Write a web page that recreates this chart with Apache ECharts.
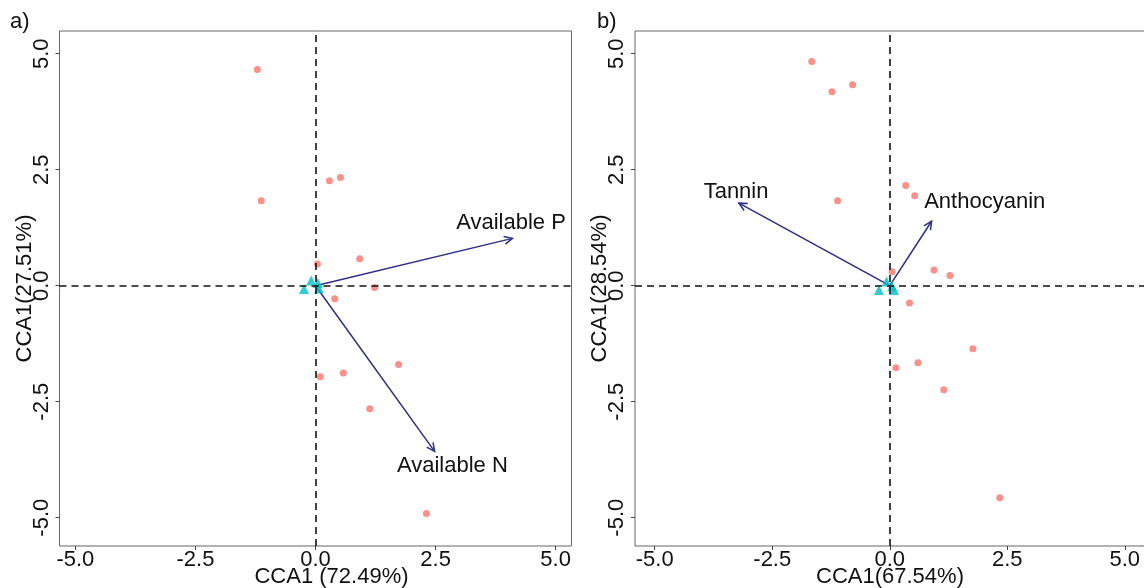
<!DOCTYPE html>
<html>
<head>
<meta charset="utf-8">
<script src="https://cdn.jsdelivr.net/npm/echarts@6/dist/echarts.min.js"></script>
<style>
  html, body { margin: 0; background: #fff; }
  #chart { width: 1144px; height: 588px; }
</style>
</head>
<body>
<div id="chart"></div>
<script>
// tick labels shared by both panels
const tickValues = [-5, -2.5, 0, 2.5, 5];

// panel a) sites, groups and environmental vectors
const sitesA = [
  [-1.21, 4.66], [-1.13, 1.83], [0.29, 2.26], [0.52, 2.33], [0.92, 0.58],
  [0.04, 0.47], [0.40, -0.28], [1.23, -0.04], [0.10, -1.96], [0.58, -1.88],
  [1.73, -1.70], [1.13, -2.65], [2.31, -4.91]
];
const groupsA = [[-0.09, 0.11], [-0.24, -0.07], [0.05, 0.06], [0.07, -0.06]];
const envNamesA = ['Available P', 'Available N'];
const envTipsA = [[4.10, 1.02], [2.48, -3.57]];
const envLabelPosA = [[4.07, 1.36], [2.85, -3.89]];

// panel b) sites, groups and environmental vectors
const sitesB = [
  [-1.66, 4.83], [-1.23, 4.18], [-0.79, 4.33], [-1.11, 1.83], [0.34, 2.16],
  [0.53, 1.94], [0.94, 0.34], [1.28, 0.22], [0.05, 0.30], [0.42, -0.37],
  [1.77, -1.36], [0.60, -1.66], [0.13, -1.77], [1.15, -2.24], [2.34, -4.57]
];
const groupsB = [[-0.07, 0.09], [-0.23, -0.09], [0.05, -0.01], [0.09, -0.09]];
const envNamesB = ['Tannin', 'Anthocyanin'];
const envTipsB = [[-3.21, 1.78], [0.89, 1.39]];
const envLabelPosB = [[-3.27, 2.03], [2.02, 1.80]];

const xTitles = ['CCA1 (72.49%)', 'CCA1(67.54%)'];
const yTitles = ['CCA1(27.51%)', 'CCA1(28.54%)'];

const fontFam = '"Liberation Sans", Arial, sans-serif';
const arrowColor = '#2E2D86';

function makeX(idx, min, max, titleShift) {
  return {
    type: 'value', gridIndex: idx, min: min, max: max,
    name: xTitles[idx], nameLocation: 'middle', nameGap: 20, nameMoveOverlap: false,
    nameTextStyle: { fontSize: 22, color: '#111', fontFamily: fontFam, padding: [0, 0, 0, titleShift] },
    splitLine: { show: false },
    axisLine: { show: false, onZero: false },
    axisTick: { show: true, length: 4, customValues: tickValues, lineStyle: { color: '#444' } },
    axisLabel: {
      customValues: tickValues, margin: 3, fontSize: 22, color: '#111', fontFamily: fontFam,
      formatter: v => v.toFixed(1)
    }
  };
}

function makeY(idx) {
  return {
    type: 'value', gridIndex: idx, min: -5.61, max: 5.49,
    name: yTitles[idx], nameLocation: 'middle', nameGap: 24, nameRotate: 90, nameMoveOverlap: false,
    nameTextStyle: { fontSize: 22, color: '#111', fontFamily: fontFam },
    splitLine: { show: false },
    axisLine: { show: false, onZero: false },
    axisTick: { show: true, length: 4, customValues: tickValues, lineStyle: { color: '#444' } },
    axisLabel: {
      customValues: tickValues, margin: 7, rotate: 90, fontSize: 22, color: '#111', fontFamily: fontFam,
      formatter: v => v.toFixed(1)
    }
  };
}

function arrowRenderer(names, labelPos) {
  return function (params, api) {
    const o = api.coord([0, 0]);
    const t = api.coord([api.value(0), api.value(1)]);
    const lp = api.coord(labelPos[params.dataIndex]);
    const ang = Math.atan2(t[1] - o[1], t[0] - o[0]);
    const h = 9, w = Math.PI / 7;
    const p1 = [t[0] - h * Math.cos(ang - w), t[1] - h * Math.sin(ang - w)];
    const p2 = [t[0] - h * Math.cos(ang + w), t[1] - h * Math.sin(ang + w)];
    return {
      type: 'group',
      children: [
        { type: 'line', shape: { x1: o[0], y1: o[1], x2: t[0], y2: t[1] },
          style: { stroke: arrowColor, lineWidth: 1.5 } },
        { type: 'polyline', shape: { points: [p1, t, p2] },
          style: { stroke: arrowColor, lineWidth: 1.5, fill: null } },
        { type: 'text', x: lp[0], y: lp[1],
          style: { text: names[params.dataIndex], fontSize: 22, fontFamily: fontFam, fill: '#111',
                   align: 'center', verticalAlign: 'middle' } }
      ]
    };
  };
}

function panelSeries(idx, sites, groups, tips, names, labelPos) {
  return [
    {
      type: 'scatter', xAxisIndex: idx, yAxisIndex: idx, data: sites,
      symbolSize: 7, itemStyle: { color: '#F8766D' }, silent: true,
      markLine: {
        silent: true, symbol: 'none', label: { show: false },
        lineStyle: { color: '#111', type: [7, 5], width: 1.6 },
        data: [{ xAxis: 0 }, { yAxis: 0 }]
      }
    },
    {
      type: 'custom', xAxisIndex: idx, yAxisIndex: idx, data: tips,
      renderItem: arrowRenderer(names, labelPos), silent: true, z: 3
    },
    {
      type: 'scatter', xAxisIndex: idx, yAxisIndex: idx, data: groups,
      symbol: 'triangle', symbolSize: 10, itemStyle: { color: '#00BFC4' }, silent: true, z: 4
    }
  ];
}

const chart = echarts.init(document.getElementById('chart'), null, { renderer: 'canvas' });
chart.setOption({
  backgroundColor: '#fff',
  animation: false,
  textStyle: { fontFamily: fontFam },
  graphic: [
    { type: 'text', left: 10, top: 11, style: { text: 'a)', fontSize: 22, fontFamily: fontFam, fill: '#111' } },
    { type: 'text', left: 597, top: 11, style: { text: 'b)', fontSize: 22, fontFamily: fontFam, fill: '#111' } }
  ],
  grid: [
    { left: 59.5, top: 31, width: 512, height: 515, outerBoundsMode: 'none', containLabel: false,
      show: true, borderColor: '#666', borderWidth: 1, backgroundColor: '#fff' },
    { left: 635, top: 31, width: 510, height: 515, outerBoundsMode: 'none', containLabel: false,
      show: true, borderColor: '#666', borderWidth: 1, backgroundColor: '#fff' }
  ],
  xAxis: [makeX(0, -5.33, 5.33, 32), makeX(1, -5.42, 5.43, 0)],
  yAxis: [makeY(0), makeY(1)],
  series: [
    ...panelSeries(0, sitesA, groupsA, envTipsA, envNamesA, envLabelPosA),
    ...panelSeries(1, sitesB, groupsB, envTipsB, envNamesB, envLabelPosB)
  ]
});
</script>
</body>
</html>
